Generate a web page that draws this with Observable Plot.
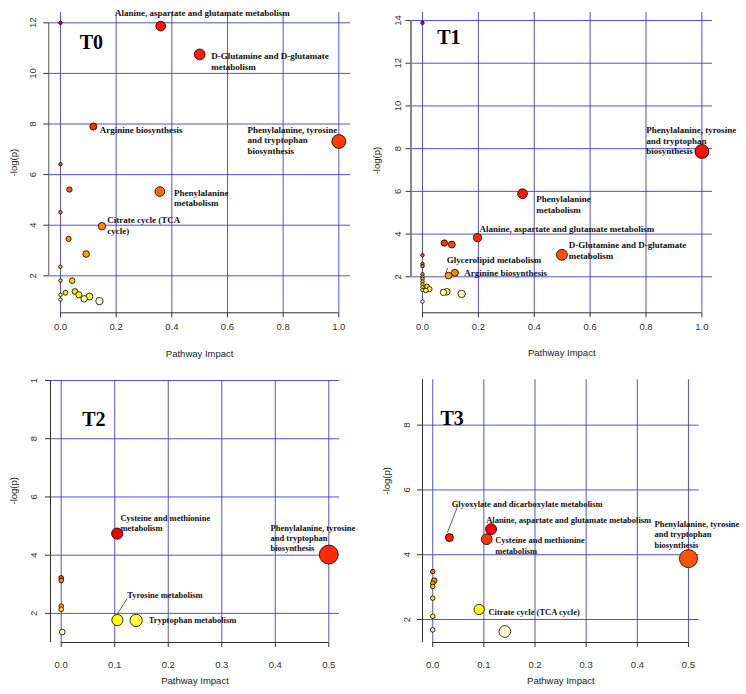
<!DOCTYPE html>
<html>
<head>
<meta charset="utf-8">
<script src="https://cdn.jsdelivr.net/npm/d3@7"></script>
<script src="https://cdn.jsdelivr.net/npm/@observablehq/plot@0.6"></script>
<style>
html, body { margin: 0; padding: 0; background: #fff; }
#chart { position: relative; width: 746px; height: 694px; overflow: hidden; background: #fff; }
#chart svg { position: absolute; left: 0; top: 0; }
</style>
</head>
<body>
<div id="chart"></div>
<script>
// ---------------- DATA ----------------
// T0
const t0Impact = [0, 0.36, 0.5, 0.118, 1.0, 0, 0.032, 0.357, 0, 0.149, 0.029, 0.092, 0, 0, 0.042, 0, 0.018, 0, 0.052, 0.066, 0.085, 0.104, 0.14];
const t0LogP   = [12.0, 11.87, 10.75, 7.9, 7.31, 6.41, 5.41, 5.33, 4.51, 3.96, 3.46, 2.86, 2.36, 1.81, 1.81, 1.25, 1.33, 1.06, 1.38, 1.25, 1.09, 1.18, 1.0];
const t0Names  = ["", "Alanine, aspartate and glutamate metabolism", "D-Glutamine and D-glutamate\nmetabolism", "Arginine biosynthesis",
  "Phenylalanine, tyrosine\nand tryptophan\nbiosynthesis", "", "", "Phenylalanine\nmetabolism", "", "Citrate cycle (TCA\ncycle)",
  "", "", "", "", "", "", "", "", "", "", "", "", ""];

// T1
const t1Impact = [0, 1.0, 0.358, 0.197, 0.078, 0.105, 0.499, 0, 0, 0, 0.116, 0.093, 0, 0, 0, 0, 0, 0, 0, 0.016, 0.025, 0.012, 0.075, 0.087, 0.14, 0];
const t1LogP   = [13.89, 7.87, 5.89, 3.83, 3.58, 3.51, 3.03, 3.01, 2.6, 2.5, 2.19, 2.06, 2.12, 2.0, 1.9, 1.78, 1.65, 1.52, 1.38, 1.55, 1.42, 1.36, 1.27, 1.30, 1.2, 0.84];
const t1Names  = ["", "Phenylalanine, tyrosine\nand tryptophan\nbiosynthesis", "Phenylalanine\nmetabolism", "Alanine, aspartate and glutamate metabolism",
  "", "", "D-Glutamine and D-glutamate\nmetabolism", "", "", "", "Arginine biosynthesis", "Glycerolipid metabolism",
  "", "", "", "", "", "", "", "", "", "", "", "", "", ""];

// T2
const t2Impact = [0.1046, 0.5, 0, 0, 0, 0, 0.105, 0.14, 0.002];
const t2LogP   = [4.74, 4.02, 3.22, 3.13, 2.25, 2.14, 1.77, 1.76, 1.36];
const t2Names  = ["Cysteine and methionine\nmetabolism", "Phenylalanine, tyrosine\nand tryptophan\nbiosynthesis", "", "", "", "",
  "Tyrosine metabolism", "Tryptophan metabolism", ""];

// T3
const t3Impact = [0.114, 0.0326, 0.1056, 0.5, 0, 0.003, 0, 0, 0, 0.0907, 0, 0, 0.141];
const t3LogP   = [4.79, 4.53, 4.48, 3.88, 3.48, 3.2, 3.12, 3.02, 2.66, 2.31, 2.10, 1.68, 1.63];
const t3Names  = ["Alanine, aspartate and glutamate metabolism", "Glyoxylate and dicarboxylate metabolism", "Cysteine and methionine\nmetabolism",
  "Phenylalanine, tyrosine\nand tryptophan\nbiosynthesis", "", "", "", "", "", "Citrate cycle (TCA cycle)", "", "", ""];

// tick values and labels
const xTicksWide = [0, 0.2, 0.4, 0.6, 0.8, 1.0];
const xLabelsWide = ["0.0", "0.2", "0.4", "0.6", "0.8", "1.0"];
const xTicksHalf = [0, 0.1, 0.2, 0.3, 0.4, 0.5];
const xLabelsHalf = ["0.0", "0.1", "0.2", "0.3", "0.4", "0.5"];
const yTicksT0 = [2, 4, 6, 8, 10, 12];
const yLabelsT0 = ["2", "4", "6", "8", "10", "12"];
const yTicksT1 = [2, 4, 6, 8, 10, 12, 14];
const yLabelsT1 = ["2", "4", "6", "8", "10", "12", "14"];
const yTicksT2 = [2, 4, 6, 8, 10];
const yLabelsT2 = ["2", "4", "6", "8", "1"];
const yTicksT3 = [2, 4, 6, 8];
const yLabelsT3 = ["2", "4", "6", "8"];
const xTitle = "Pathway Impact";
const yTitle = "-log(p)";

// ---------------- DRAWING ----------------
const W = 746, H = 694;
const gridColor = "#3535d0";
const serif = "'Liberation Serif', 'Times New Roman', serif";
const sans = "'Liberation Sans', Arial, sans-serif";

// R's heat.colors(n)
function heatColors(n) {
  const j = Math.floor(n / 4), i = n - j, out = [];
  for (let k = 0; k < i; k++) {
    const h = i > 1 ? k / (i - 1) / 6 : 0;
    out.push(`rgb(255,${Math.round(255 * 6 * h)},0)`);
  }
  const s0 = 1 - 1 / (2 * j), s1 = 1 / (2 * j);
  for (let k = 0; k < j; k++) {
    const s = j > 1 ? s0 + (s1 - s0) * k / (j - 1) : s0;
    out.push(`rgb(255,255,${Math.round(255 * (1 - s))})`);
  }
  return out;
}

function panel(cfg) {
  const m = cfg.m;
  const fw = W - m.left - m.right, fh = H - m.top - m.bottom;
  const kx = fw / (cfg.xDom[1] - cfg.xDom[0]);
  const ky = fh / (cfg.yDom[1] - cfg.yDom[0]);
  const rows = cfg.impact.map((x, i) => ({x, y: cfg.logp[i], name: cfg.names[i]}));
  const sorted = rows.slice().sort((a, b) => b.y - a.y);
  const cols = heatColors(rows.length);
  sorted.forEach((d, k) => d.color = cols[k]);
  const sq = cfg.impact.map(Math.sqrt);
  const minS = d3.min(sq), maxS = d3.max(sq);
  const maxR = (maxS - minS) / 40 * kx, minR = (maxS - minS) / 160 * kx;

  const labelMarks = Object.entries(cfg.labels).map(([idx, lay]) =>
    Plot.text([rows[+idx]], {
      x: "x", y: "y", text: "name", dx: lay.dx, dy: lay.dy,
      textAnchor: lay.anchor || "start", lineAnchor: "middle",
      fontFamily: serif, fontWeight: "bold", fontSize: cfg.labelSize, lineHeight: 1.2, fill: "#111"
    }));

  const leaderData = (cfg.leaders || []).map(l => {
    const d = rows[l.i];
    return {x1: d.x + l.from[0] / kx, y1: d.y - l.from[1] / ky, x2: d.x + l.to[0] / kx, y2: d.y - l.to[1] / ky};
  });

  const xT = cfg.xTicks, xL = cfg.xLabels, yT = cfg.yTicks, yL = cfg.yLabels;

  return Plot.plot({
    width: W, height: H,
    marginLeft: m.left, marginRight: m.right, marginTop: m.top, marginBottom: m.bottom,
    x: {domain: cfg.xDom},
    y: {domain: cfg.yDom},
    r: {type: "sqrt", domain: [d3.min(cfg.impact), d3.max(cfg.impact)], range: [minR, maxR]},
    color: {type: "identity"},
    style: {background: "transparent", overflow: "visible", fontFamily: sans, fontSize: "9.5px", color: "#222"},
    marks: [
      Plot.gridX(xT, {stroke: gridColor, strokeOpacity: 0.85, strokeWidth: 1}),
      Plot.gridY(yT, {stroke: gridColor, strokeOpacity: 0.85, strokeWidth: 1}),
      Plot.ruleX([cfg.xDom[0]], {y1: cfg.yLine[0], y2: cfg.yLine[1], stroke: cfg.yLineColor, strokeWidth: cfg.yLineWidth}),
      Plot.ruleY([cfg.yDom[0]], {x1: xT[0], x2: xT[xT.length - 1], stroke: "#333", strokeWidth: 1}),
      Plot.axisX(xT, {tickSize: 5, tickPadding: cfg.xPad, tickFormat: d => xL[xT.indexOf(d)], color: "#333", fontSize: 9.5}),
      Plot.axisY(yT, {tickSize: 5, tickPadding: cfg.yPad, tickRotate: -90, tickFormat: d => yL[yT.indexOf(d)], color: "#333", fontSize: 9.5}),
      Plot.link(leaderData, {x1: "x1", y1: "y1", x2: "x2", y2: "y2", stroke: "#333", strokeWidth: 0.8}),
      Plot.dot(sorted, {x: "x", y: "y", r: "x", fill: "color", stroke: "#000", strokeWidth: 0.8, sort: null}),
      ...labelMarks,
      Plot.text([cfg.title], {text: d => d, frameAnchor: "top-left", dx: cfg.titlePos[0], dy: cfg.titlePos[1],
        textAnchor: "middle", lineAnchor: "middle", fontFamily: serif, fontWeight: "bold", fontSize: 20, fill: "#000"}),
      Plot.text([xTitle], {text: d => d, frameAnchor: "bottom", dy: cfg.xTitleDy, textAnchor: "middle", lineAnchor: "middle",
        fill: "#222", fontSize: 9.5}),
      Plot.text([yTitle], {text: d => d, frameAnchor: "left", dx: cfg.yTitlePos[0], dy: cfg.yTitlePos[1], rotate: -90,
        textAnchor: "middle", lineAnchor: "middle", fill: "#222", fontSize: 9.5})
    ]
  });
}

const panels = [
  {
    title: "T0", impact: t0Impact, logp: t0LogP, names: t0Names,
    m: {left: 48.3, right: 396, top: 12, bottom: 381.7},
    xDom: [-0.042, 1.042], yDom: [0.538, 12.407],
    xTicks: xTicksWide, xLabels: xLabelsWide, yTicks: yTicksT0, yLabels: yLabelsT0,
    yLine: [2, 12], yLineColor: "#555", yLineWidth: 1,
    xPad: 5.7, yPad: 8.1, xTitleDy: 41, yTitlePos: [-35, 0], titlePos: [42.6, 30.3],
    labelSize: 9,
    labels: {
      1: {dx: 41.6, dy: -13.9, anchor: "middle"},
      2: {dx: 11.7, dy: 6.5},
      3: {dx: 6.5, dy: 2.7},
      4: {dx: -91.3, dy: -1.5},
      7: {dx: 14.1, dy: 5.9},
      9: {dx: 5.3, dy: -1.5}
    }
  },
  {
    title: "T1", impact: t1Impact, logp: t1LogP, names: t1Names,
    m: {left: 410.5, right: 34, top: 12, bottom: 381.7},
    xDom: [-0.0412, 1.038], yDom: [0.315, 14.375],
    xTicks: xTicksWide, xLabels: xLabelsWide, yTicks: yTicksT1, yLabels: yLabelsT1,
    yLine: [2, 14], yLineColor: "#888", yLineWidth: 2,
    xPad: 5.7, yPad: 5.1, xTitleDy: 40.4, yTitlePos: [-34.5, -2], titlePos: [37.8, 24.7],
    labelSize: 9,
    labels: {
      1: {dx: -55.6, dy: -11.2},
      2: {dx: 13.7, dy: 10.6},
      3: {dx: 2, dy: -8.9},
      6: {dx: 6.9, dy: -4.6},
      10: {dx: 9.3, dy: -0.6},
      11: {dx: -1.7, dy: -15.7}
    },
    leaders: [{i: 11, from: [-3, -2], to: [-0.7, -7.6]}]
  },
  {
    title: "T2", impact: t2Impact, logp: t2LogP, names: t2Names,
    m: {left: 50, right: 407, top: 380, bottom: 52},
    xDom: [-0.02, 0.52], yDom: [1.0, 10.0],
    xTicks: xTicksHalf, xLabels: xLabelsHalf, yTicks: yTicksT2, yLabels: yLabelsT2,
    yLine: [1.0, 10.0], yLineColor: "#333", yLineWidth: 1,
    xPad: 14, yPad: 8.3, xTitleDy: 38.3, yTitlePos: [-36.7, -20.7], titlePos: [43.3, 38.7],
    labelSize: 8.5,
    labels: {
      0: {dx: 3.3, dy: -11.1},
      1: {dx: -58.3, dy: -16.8},
      6: {dx: 9.8, dy: -25.1},
      7: {dx: 12.7, dy: -0.3}
    },
    leaders: [{i: 6, from: [0.4, -6.7], to: [9.8, -21.7]}]
  },
  {
    title: "T3", impact: t3Impact, logp: t3LogP, names: t3Names,
    m: {left: 422, right: 47.3, top: 379.3, bottom: 52},
    xDom: [-0.02, 0.521], yDom: [1.29, 9.4],
    xTicks: xTicksHalf, xLabels: xLabelsHalf, yTicks: yTicksT3, yLabels: yLabelsT3,
    yLine: [1.29, 9.4], yLineColor: "#333", yLineWidth: 1,
    xPad: 14, yPad: 7.3, xTitleDy: 38, yTitlePos: [-35.7, -30.4], titlePos: [29.7, 38.4],
    labelSize: 8.5,
    labels: {
      0: {dx: -4.9, dy: -9.3},
      1: {dx: 2.3, dy: -34.3},
      2: {dx: 8.4, dy: 6.1},
      3: {dx: -34, dy: -24.4},
      9: {dx: 9.3, dy: 2}
    },
    leaders: [{i: 1, from: [-2, -5], to: [8, -30.7]}]
  }
];

const chart = document.getElementById("chart");
for (const cfg of panels) chart.appendChild(panel(cfg));
</script>
</body>
</html>
